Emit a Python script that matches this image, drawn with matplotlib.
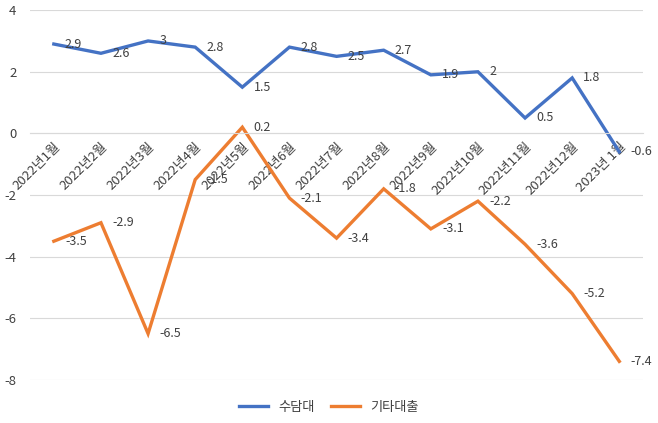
import numpy as np
import matplotlib.pyplot as plt

plt.rcParams['font.family'] = ['Noto Sans CJK KR', 'DejaVu Sans']
plt.rcParams['axes.unicode_minus'] = False

months = ["2022년1월", "2022년2월", "2022년3월", "2022년4월", "2022년5월", "2022년6월",
          "2022년7월", "2022년8월", "2022년9월", "2022년10월", "2022년11월", "2022년12월",
          "2023년 1월"]
mortgage = [2.9, 2.6, 3, 2.8, 1.5, 2.8, 2.5, 2.7, 1.9, 2, 0.5, 1.8, -0.6]
other = [-3.5, -2.9, -6.5, -1.5, 0.2, -2.1, -3.4, -1.8, -3.1, -2.2, -3.6, -5.2, -7.4]

blue = "#4472C4"
orange = "#ED7D31"
text_col = "#404040"

fig = plt.figure(figsize=(6.58, 4.23), dpi=100)
ax = fig.add_axes([0.046, 0.102, 0.931, 0.874])

x = np.arange(len(months))
ax.plot(x, mortgage, color=blue, lw=2.4, label="수담대", solid_joinstyle='miter')
ax.plot(x, other, color=orange, lw=2.4, label="기타대출", solid_joinstyle='miter')

for xi, v in zip(x, mortgage):
    ax.annotate(f"{v:g}", (xi, v), xytext=(8, 0), textcoords='offset points',
                ha='left', va='center', fontsize=9, color=text_col)
for xi, v in zip(x, other):
    ax.annotate(f"{v:g}", (xi, v), xytext=(8, 0), textcoords='offset points',
                ha='left', va='center', fontsize=9, color=text_col)

ax.set_xlim(-0.5, len(months) - 0.5)
ax.set_ylim(-8, 4)
ax.set_yticks([-8, -6, -4, -2, 0, 2, 4])
ax.grid(axis='y', color='#D9D9D9', lw=0.8)
ax.set_axisbelow(True)

ax.spines['bottom'].set_position(('data', 0))
ax.spines['bottom'].set_color('#D9D9D9')
for s in ['top', 'right', 'left']:
    ax.spines[s].set_visible(False)
ax.set_xticks(x)
ax.set_xticklabels(months, rotation=45, ha='right', rotation_mode='anchor',
                   fontsize=9.5, color=text_col)
ax.tick_params(axis='x', length=0, pad=5)
ax.tick_params(axis='y', length=0, labelsize=9.5, labelcolor=text_col, pad=10)

fig.legend(loc='center', bbox_to_anchor=(0.5, 0.037), ncol=2, frameon=False,
           fontsize=9.5, handlelength=2.2, columnspacing=1.2, labelcolor=text_col)

fig.savefig("out.png", dpi=100)
